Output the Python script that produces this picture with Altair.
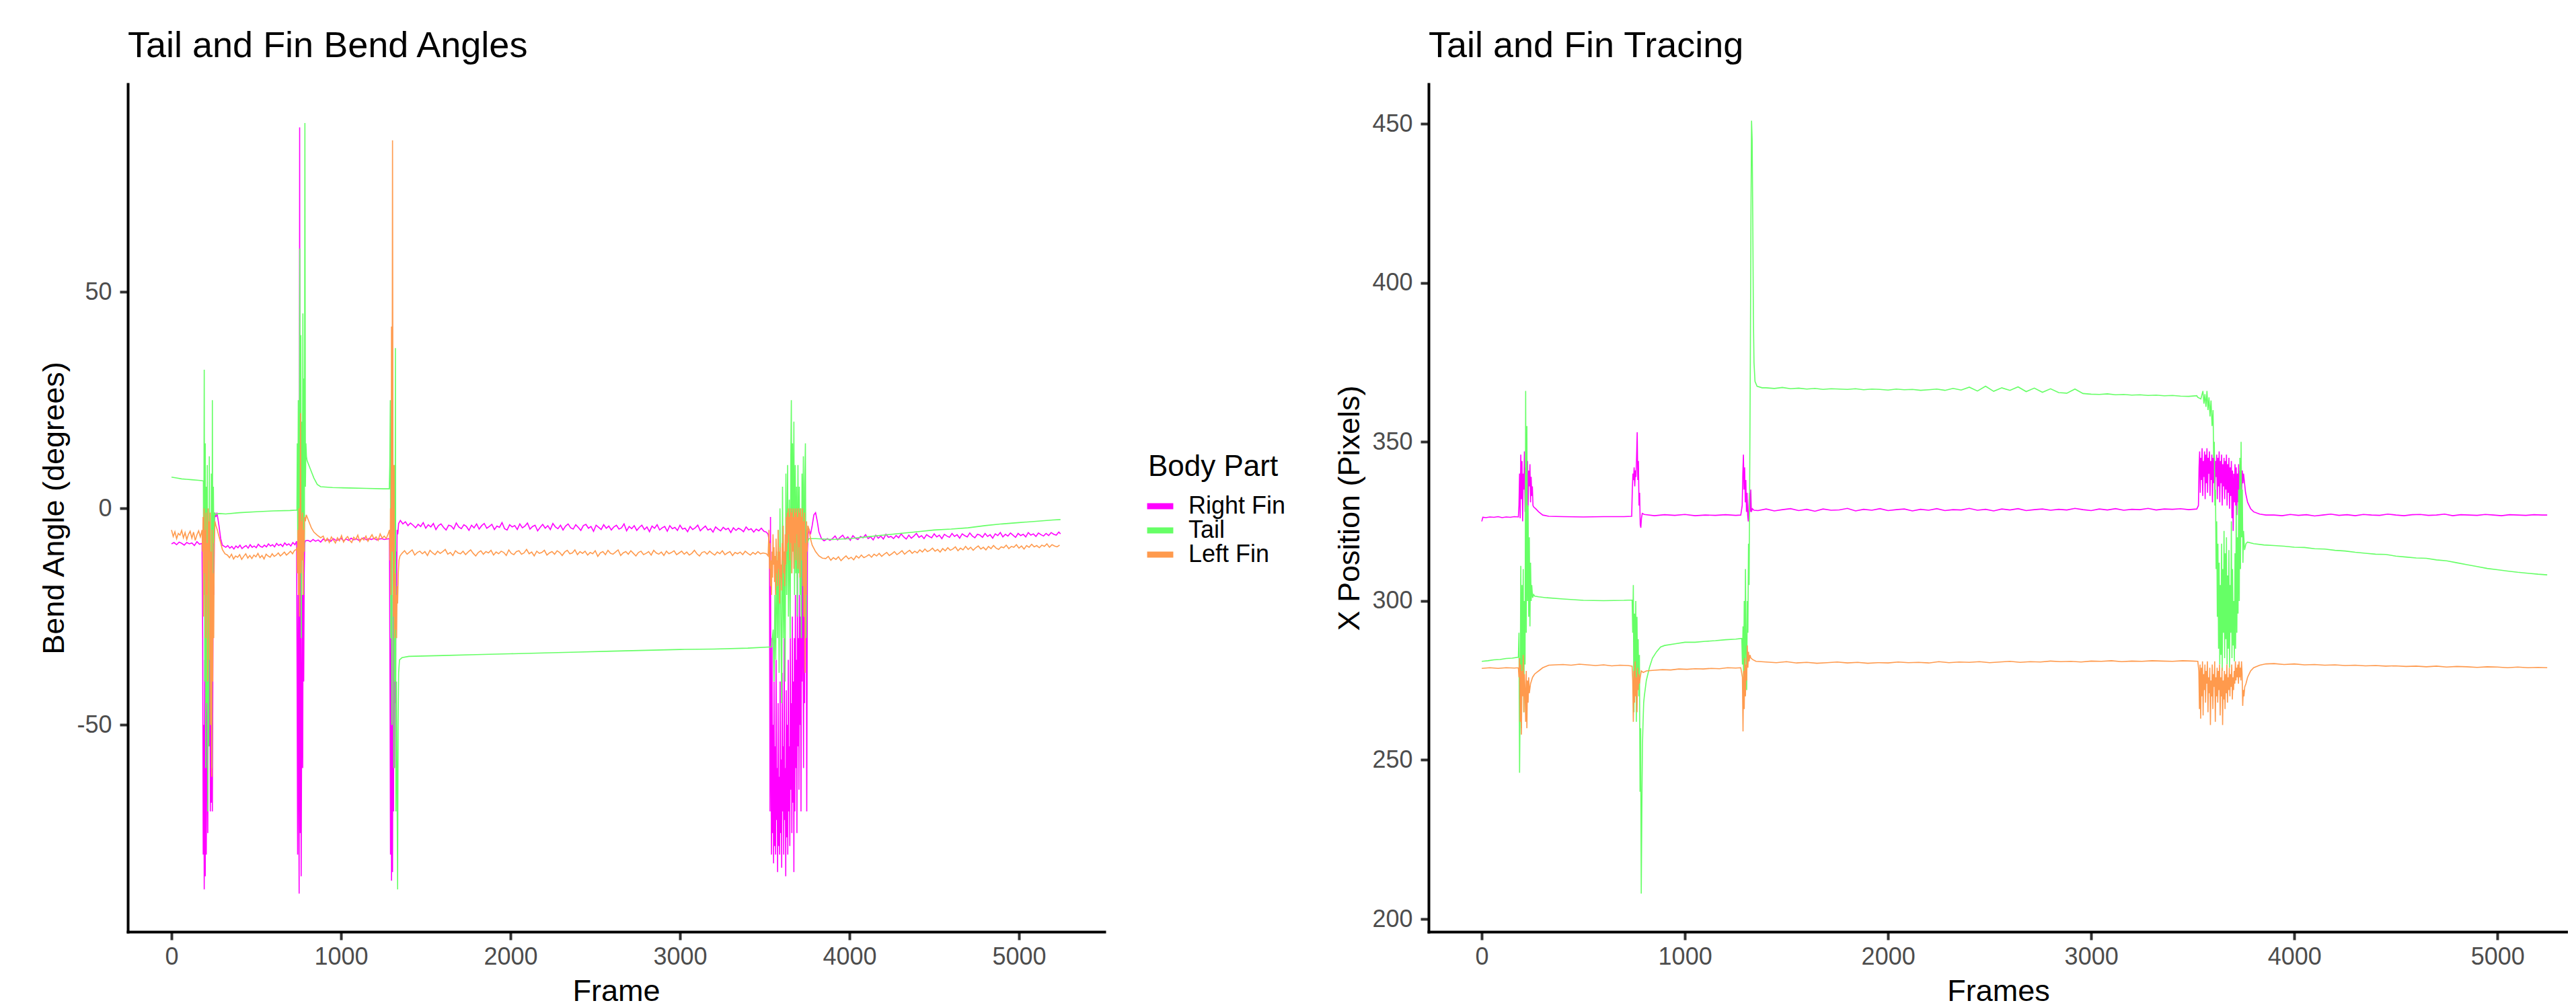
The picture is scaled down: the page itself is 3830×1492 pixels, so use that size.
import altair as alt
import pandas as pd

FONT = "Liberation Sans, Arial, sans-serif"
PARTS = ["Right Fin", "Tail", "Left Fin"]
COLORS = ["#FF00FF", "#66FF66", "#FF9A4D"]
X_TICKS = [0, 1000, 2000, 3000, 4000, 5000]
ANGLE_TICKS = [-50, 0, 50]
POS_TICKS = [200, 250, 300, 350, 400, 450]


def seg(start, step, vals):
    return [(start + i * step, v) for i, v in enumerate(vals)]


# ---------------- Bend angles (left panel) ----------------
RF_ANGLE = (
    seg(0, 15, [-8.2, -7.9, -8.4, -7.8, -8.1, -8.5, -7.9, -8.2, -8.0, -8.6, -7.7, -8.3, -8.1])
    + [(184, -30), (187, -80), (190, -50), (193, -88), (196, -35), (199, -85), (202, -20), (205, -80),
       (208, -60), (211, -40), (214, -75), (217, -30), (220, -10), (223, -55), (226, -25), (229, -70),
       (232, -40), (235, -68), (238, -15), (241, -70), (244, -35), (247, -5), (250, -20), (253, -3),
       (256, -1), (262, -2), (268, -1), (274, -2.5), (280, -4), (290, -7), (300, -8.5)]
    + seg(320, 12, [-9.0, -8.6, -9.2, -8.8, -9.4, -8.7, -9.1, -8.5, -9.3, -8.9, -8.6, -9.2, -8.4, -9.0,
                    -8.7, -9.1, -8.3, -8.8, -9.0, -8.5, -8.9, -8.2, -8.7, -8.4, -8.9, -8.1, -8.6, -8.3,
                    -8.8, -8.0, -8.5, -8.2, -8.7, -7.9, -8.4])
    + [(738, -7.6), (741, -40), (744, -80), (747, -20), (750, -60), (753, -89), (756, 88), (758, -30),
       (760, -75), (762, -10), (765, -85), (768, -50), (771, -20), (774, -60), (777, -5), (780, -40),
       (783, -15), (786, -8), (790, -7.5)]
    + seg(805, 15, [-7.4, -7.7, -7.2, -7.6, -7.3, -7.8, -7.1, -7.5, -7.2, -7.6, -7.0, -7.4, -7.3, -6.9,
                    -7.5, -7.1, -7.4, -6.9, -7.3, -7.0, -7.4, -7.1, -6.8, -7.3, -7.0, -7.2, -6.9, -7.3,
                    -7.1, -7.0, -7.2])
    + [(1286, -7), (1289, -40), (1292, -80), (1295, -30), (1298, -86), (1301, -50), (1304, -84),
       (1307, -20), (1310, -70), (1313, 0), (1316, -60), (1319, -30), (1322, -45), (1325, -10),
       (1328, -20), (1331, -5), (1335, -6), (1340, -3.5)]
    + seg(1350, 15, [-2.8, -3.6, -3.1, -4.0, -3.4, -3.9, -4.5, -3.7, -4.2, -3.3, -4.6, -3.8,
                     -4.3, -3.5, -4.9, -4.0, -3.6, -4.4, -5.0, -3.9, -4.1, -4.8, -3.4, -4.3,
                     -4.7, -3.8, -4.2, -5.1, -3.9, -4.5, -3.6, -4.8, -4.0, -3.5, -4.6, -4.2,
                     -3.7, -4.9, -4.1, -4.4, -3.3, -4.7, -5.0, -3.8, -4.3, -4.0, -4.9, -3.6,
                     -4.5, -4.1, -3.4, -4.8, -4.2, -3.9, -5.2, -4.4, -3.7, -4.6, -4.0, -4.9,
                     -3.5, -4.3, -4.7, -3.9, -5.0, -4.1, -3.6, -4.5, -4.8, -3.8, -4.4, -5.1,
                     -4.0, -3.7, -4.6, -4.2, -5.3, -3.9, -4.4, -4.9, -3.8, -4.6, -4.1, -5.0,
                     -4.3, -3.9, -4.8, -4.5, -3.6, -5.2, -4.2, -4.7, -4.0, -5.1, -4.4, -3.9,
                     -4.9, -4.3, -5.4, -4.1, -4.6, -3.8, -5.0, -4.5, -4.2, -5.3, -4.0, -4.7,
                     -4.4, -5.1, -3.9, -4.8, -4.6, -5.4, -4.2, -4.9, -4.5, -3.9, -5.2, -4.6,
                     -4.1, -5.0, -4.7, -5.5, -4.3, -4.8, -5.2, -4.4, -4.9, -4.6, -5.6, -4.5,
                     -5.1, -4.6, -4.9, -5.4, -4.3, -5.0, -4.7, -5.5, -4.8, -5.2, -4.6, -5.3])
    + [(3510, -5.5), (3520, -6), (3528, -8), (3531, -70), (3534, -2), (3537, -60), (3540, -80),
       (3543, -30), (3546, -75), (3549, -50), (3552, -82), (3555, -40), (3558, -78), (3561, -55),
       (3564, -80), (3567, -35), (3570, -72), (3573, -60), (3576, -84), (3579, -45), (3582, -78),
       (3585, -62), (3588, -80), (3591, -40), (3594, -75), (3597, -58), (3600, -83), (3603, -38),
       (3606, -70), (3609, -55), (3612, -80), (3615, -30), (3618, -72), (3621, -60), (3624, -85),
       (3627, -42), (3630, -76), (3633, -50), (3636, -80), (3639, -35), (3642, -70), (3645, -55),
       (3648, -78), (3651, -30), (3654, -65), (3657, -45), (3660, -75), (3663, -25), (3666, -68),
       (3669, -40), (3672, -84), (3675, -30), (3678, -70), (3681, -20), (3684, -60), (3687, -35),
       (3690, -75), (3693, -15), (3696, -55), (3699, -30), (3702, -65), (3705, -20), (3708, -50),
       (3711, -25), (3714, -70), (3717, -10), (3720, -40), (3723, -5), (3726, -30), (3729, -60),
       (3732, -8), (3735, -45), (3738, -3), (3741, -20), (3744, -6), (3748, -70), (3752, -10),
       (3756, -6), (3762, -5), (3770, -6), (3780, -4), (3790, -1.5), (3800, -1), (3810, -3),
       (3820, -5.5), (3835, -7), (3850, -7.5), (3870, -7.0), (3885, -7.4)]
    + seg(3900, 15, [-7.0, -6.4, -7.3, -6.7, -6.2, -7.1, -6.6, -7.4, -6.3, -6.9, -7.2, -6.5,
                     -6.8, -6.1, -7.0, -6.6, -7.3, -6.2, -6.9, -6.4, -7.1, -6.0, -6.7, -6.5,
                     -7.0, -6.3, -6.8, -5.9, -6.6, -7.1, -6.2, -6.9, -6.4, -5.8, -6.7, -6.3,
                     -7.0, -6.1, -6.5, -6.8, -5.9, -6.6, -6.2, -7.0, -6.0, -6.4, -6.7, -5.8,
                     -6.5, -6.1, -6.9, -5.9, -6.3, -6.6, -5.7, -6.4, -6.8, -6.0, -6.2, -6.7,
                     -5.8, -6.5, -6.1, -6.9, -5.9, -6.3, -5.6, -6.6, -6.0, -6.4, -5.7, -6.2,
                     -6.7, -5.8, -6.3, -6.0, -6.6, -5.6, -6.2, -5.9, -6.5, -5.7, -6.1, -6.4,
                     -5.8, -6.3, -5.6, -6.0, -6.2, -5.5])
    + [(5245, -5.9)]
)

TAIL_ANGLE = [
    (0, 7.2), (30, 7.0), (60, 6.8), (90, 6.7), (120, 6.6), (150, 6.5), (180, 6.4), (188, 6.3),
    (190, -20), (193, 32), (196, -40), (199, 15), (202, -60), (205, 5), (208, -45), (211, 10),
    (214, -70), (217, -5), (220, -55), (223, 12), (226, -30), (229, -10), (232, -50), (235, 8),
    (238, -60), (241, 25), (244, -20), (247, 5), (250, -8), (254, -1), (258, -1.5),
    (280, -1.2), (320, -1.3), (400, -1.0), (500, -0.8), (600, -0.6), (700, -0.5), (740, -0.4),
    (742, 15), (745, -10), (748, 25), (751, -20), (754, 10), (757, 60), (760, -15), (763, 40),
    (766, -30), (769, 20), (772, -5), (775, 45), (778, -20), (781, 30), (784, -10), (787, 89),
    (790, 5), (793, 15), (796, 12), (800, 11), (820, 9), (840, 7), (860, 5.5), (880, 5),
    (950, 4.8), (1050, 4.7), (1150, 4.6), (1250, 4.5), (1285, 4.5),
    (1288, 10), (1291, 25), (1294, -30), (1297, 15), (1300, -50), (1303, 20), (1306, -10),
    (1309, 5), (1312, -60), (1315, 10), (1318, -40), (1321, 37), (1324, -70), (1327, -40),
    (1330, -60), (1334, -88), (1337, -50), (1340, -38), (1345, -35), (1360, -34.5), (1400, -34.2),
    (1600, -34.0), (1800, -33.8), (2000, -33.6), (2200, -33.4), (2400, -33.2), (2600, -33.0),
    (2800, -32.8), (3000, -32.6), (3200, -32.5), (3400, -32.3), (3540, -32.0),
    (3545, -30), (3550, -28), (3555, -40), (3560, -20), (3565, -35), (3570, -10), (3575, -30),
    (3580, -5), (3585, -38), (3590, 0), (3595, -25), (3600, -45), (3605, 5), (3610, -30),
    (3615, -10), (3620, -40), (3625, 8), (3630, -20), (3635, 10), (3640, -25), (3645, 2),
    (3650, -30), (3654, 12), (3657, 25), (3660, -15), (3664, 15), (3668, -10), (3672, 20),
    (3676, -20), (3680, 10), (3684, -15), (3688, 5), (3692, -25), (3696, 10), (3700, -15),
    (3704, 5), (3708, -20), (3712, 0), (3716, -30), (3720, 8), (3724, -10), (3728, 12),
    (3732, -25), (3736, 5), (3740, 15), (3744, -30), (3748, -5), (3752, -8), (3760, -7),
    (3800, -7.0), (3900, -7.2), (4000, -7.0), (4100, -6.6), (4200, -6.2), (4300, -5.8),
    (4400, -5.4), (4500, -5.0), (4600, -4.8), (4700, -4.5), (4800, -4.0), (4900, -3.6),
    (5000, -3.3), (5100, -3.0), (5200, -2.7), (5245, -2.6),
]

LF_ANGLE = (
    seg(0, 10, [-5.0, -6.5, -5.4, -7.0, -5.8, -6.2, -5.1, -6.8, -5.6, -7.2, -6.0, -5.3, -6.9, -5.5,
                -7.4, -6.1, -5.2, -6.6, -5.0])
    + [(183, -10), (186, -2), (189, -25), (192, 0), (195, -15), (198, -5), (201, -30), (204, -1),
       (207, -20), (210, -8), (213, -40), (216, 0), (219, -12), (222, -3), (225, -35), (228, -1),
       (231, -50), (234, -10), (237, -62), (240, -5), (243, -40), (246, -15), (249, -30), (252, -8),
       (256, -3), (262, -4), (270, -5), (280, -6.5), (290, -8), (300, -9.5), (315, -10.5)]
    + seg(330, 12, [-10.8, -11.4, -10.6, -11.7, -11.0, -11.3, -10.7, -11.8, -11.1, -10.5, -11.5, -10.9,
                    -11.6, -10.8, -11.2, -10.4, -11.4, -10.9, -11.7, -10.6, -11.0, -11.3, -10.5, -11.1,
                    -10.8, -10.3, -11.0, -10.6, -10.1, -10.8, -10.4, -9.9, -10.5, -9.7, -9.5])
    + [(740, -9), (743, -15), (746, -5), (749, -20), (752, 0), (755, -25), (758, -8), (761, 22),
       (764, -15), (767, -3), (770, -12), (773, -1), (776, -20), (779, -5), (782, -10), (785, -2),
       (790, -3), (795, -1.5), (800, -2), (810, -3), (825, -4.5), (840, -5.5), (860, -6.2), (880, -6.8)]
    + seg(895, 12, [-6.4, -7.6, -6.9, -7.9, -6.6, -7.3, -8.0, -6.8, -7.5, -6.3, -7.8, -7.0,
                    -6.5, -7.4, -7.9, -6.7, -7.2, -6.2, -7.7, -6.9, -7.3, -6.4, -7.6, -6.8,
                    -6.1, -7.1, -6.6, -7.4, -5.9, -6.9, -6.4, -7.0, -5.8, -6.6])
    + [(1286, -5), (1289, -12), (1292, 0), (1295, -20), (1298, 42), (1301, -10), (1304, 85),
       (1307, -5), (1310, -25), (1313, 10), (1316, -30), (1319, -15), (1322, -28), (1325, -20),
       (1328, -30), (1331, -18), (1334, -22), (1338, -15), (1342, -12), (1348, -11)]
    + seg(1360, 15, [-10.4, -9.8, -10.6, -10.1, -9.6, -10.8, -10.2, -9.9, -10.5, -10.0, -10.9, -9.7,
                     -10.3, -10.7, -9.9, -10.4, -10.0, -9.5, -10.6, -10.2, -10.9, -9.8, -10.3, -10.5,
                     -9.9, -10.7, -10.1, -9.6, -10.4, -11.0, -10.2, -9.8, -10.6, -10.0, -10.3, -9.7,
                     -10.8, -10.1, -10.5, -9.9, -10.2, -10.9, -9.6, -10.4, -10.7, -10.0, -9.8, -10.6,
                     -10.3, -9.5, -10.5, -10.1, -11.0, -9.9, -10.4, -10.2, -9.7, -10.8, -10.3, -10.0,
                     -10.6, -9.8, -10.2, -10.9, -10.1, -9.7, -10.5, -10.3, -9.6, -10.7, -10.0, -10.4,
                     -9.9, -10.8, -10.2, -10.5, -9.8, -11.1, -10.3, -10.0, -10.7, -9.7, -10.4, -10.6,
                     -10.1, -9.6, -10.9, -10.3, -10.0, -10.6, -9.8, -10.4, -11.0, -10.2, -9.9, -10.7,
                     -10.4, -10.0, -10.8, -9.7, -10.3, -10.6, -10.1, -10.9, -9.9, -10.5, -10.2, -9.8,
                     -10.7, -10.3, -9.9, -10.6, -10.1, -10.8, -10.4, -9.7, -10.5, -11.0, -10.2, -10.0,
                     -10.6, -9.9, -10.4, -10.8, -10.1, -10.5, -9.8, -10.7, -10.3, -10.0, -10.9, -10.2,
                     -10.5, -10.1, -10.7, -9.9, -10.4, -10.8, -10.2, -10.6, -10.0, -10.5, -10.3])
    + [(3510, -10.5), (3520, -11), (3525, -5), (3528, -14), (3531, -8), (3534, -18), (3537, -12),
       (3540, -20), (3543, -10), (3546, -16), (3549, -6), (3552, -13), (3555, -9), (3558, -17),
       (3561, -11), (3564, -20), (3567, -7), (3570, -15), (3573, -12), (3576, -18), (3579, -5),
       (3582, -14), (3585, -10), (3588, -22), (3591, -9), (3594, -16), (3597, -13), (3600, -19),
       (3603, -8), (3606, -12), (3609, -4), (3612, -15), (3615, -10), (3618, -18), (3621, -6),
       (3624, -13), (3627, -2), (3630, -10), (3633, -1), (3636, -8), (3639, 0), (3642, -6),
       (3645, -2), (3648, -12), (3651, 0), (3654, -8), (3657, -1), (3660, -15), (3663, 0),
       (3666, -10), (3669, -2), (3672, -14), (3675, 0), (3678, -8), (3681, -1), (3684, -12),
       (3687, 0), (3690, -6), (3693, -2), (3696, -14), (3699, 0), (3702, -9), (3705, -1),
       (3708, -16), (3711, 0), (3714, -5), (3717, -2), (3720, -12), (3723, 0), (3726, -18),
       (3729, -3), (3732, -25), (3735, -1), (3738, -38), (3741, -8), (3744, -20), (3747, -3),
       (3750, -10), (3755, -4), (3762, -5), (3770, -7), (3780, -8.5), (3800, -10), (3820, -11),
       (3840, -11.5)]
    + seg(3860, 15, [-11.6, -11.1, -12.0, -11.4, -11.8, -11.2, -12.1, -11.5, -11.0, -11.7, -11.3, -11.9,
                     -11.0, -11.5, -10.8, -11.4, -11.1, -10.7, -11.3, -10.6, -11.0, -10.4, -11.1, -10.6,
                     -10.2, -10.9, -10.5, -10.0, -10.7, -10.3, -9.8, -10.6, -10.1, -9.7, -10.4, -9.9,
                     -10.3, -9.6, -10.1, -9.4, -10.0, -9.7, -9.2, -9.9, -9.5, -10.1, -9.3, -9.8,
                     -9.1, -9.7, -9.4, -8.9, -9.8, -9.2, -9.6, -8.8, -9.5, -9.0, -9.7, -9.1,
                     -8.7, -9.4, -9.0, -9.6, -8.8, -9.3, -8.6, -9.2, -9.5, -8.9, -9.1, -8.5,
                     -9.3, -8.8, -9.0, -8.4, -9.2, -8.7, -9.4, -8.6, -9.0, -8.3, -8.9, -8.6,
                     -9.1, -8.5, -8.8, -8.2, -9.0, -8.4, -8.7, -8.9, -8.5])
)

# ---------------- X positions (right panel) ----------------
RF_POS = (
    [(0, 325.0), (5, 326.3)]
    + seg(20, 20, [326.2, 326.4, 326.3, 326.5, 326.2, 326.4, 326.3, 326.5, 326.4])
    + [(183, 330), (186, 340), (189, 326), (192, 346), (195, 332), (198, 344), (201, 325), (204, 340),
       (207, 335), (210, 347), (213, 328), (216, 342), (219, 324), (222, 338), (225, 344), (228, 330),
       (231, 341), (234, 336), (237, 343), (240, 331), (243, 339), (246, 333), (249, 336), (252, 330),
       (256, 329.5), (265, 329), (280, 328), (300, 327), (330, 326.6), (400, 326.5), (500, 326.4),
       (600, 326.5), (700, 326.5), (738, 326.6),
       (741, 335), (744, 340), (747, 338), (750, 342), (753, 336), (756, 341), (759, 339), (762, 345),
       (765, 353), (768, 338), (771, 344), (774, 330), (777, 334), (780, 324), (783, 323), (786, 326),
       (790, 327.5), (800, 327.2), (850, 326.8), (900, 327.1), (950, 326.9), (1000, 327.2),
       (1050, 326.8), (1100, 327.0), (1150, 326.9), (1200, 327.1), (1250, 326.9), (1275, 327.0),
       (1282, 330), (1285, 340), (1288, 346), (1291, 335), (1294, 342), (1297, 331), (1300, 338),
       (1303, 328), (1306, 334), (1309, 327), (1312, 325), (1315, 330), (1318, 334), (1321, 328),
       (1324, 335), (1327, 328), (1332, 329), (1340, 328.5)]
    + seg(1360, 40, [328.4, 328.9, 328.3, 328.7, 329.0, 328.4, 328.8, 328.2, 328.9, 328.5, 328.6, 329.1,
                     328.3, 328.8, 328.5, 329.0, 328.4, 328.7, 328.9, 328.3, 328.8, 328.5, 329.0, 328.4,
                     328.7, 328.6, 329.1, 328.5, 328.8, 328.3, 328.9, 328.6, 329.0, 328.4, 328.7, 328.9,
                     328.5, 328.8, 328.6, 329.1, 328.7, 328.4, 328.9, 328.6, 329.0, 328.5, 328.8, 328.7,
                     329.1, 328.6, 328.9, 328.8, 329.0, 328.7, 328.9])
    + [(3528, 330), (3531, 342), (3534, 347), (3537, 334), (3540, 345), (3543, 338), (3546, 348),
       (3549, 333), (3552, 344), (3555, 339), (3558, 347), (3561, 332), (3564, 346), (3567, 337),
       (3570, 348), (3573, 334), (3576, 345), (3579, 340), (3582, 347), (3585, 333), (3588, 344),
       (3591, 338), (3594, 346), (3597, 331), (3600, 345), (3603, 337), (3606, 347), (3609, 333),
       (3612, 344), (3615, 339), (3618, 346), (3621, 332), (3624, 345), (3627, 336), (3630, 347),
       (3633, 331), (3636, 344), (3639, 337), (3642, 346), (3645, 330), (3648, 343), (3651, 336),
       (3654, 345), (3657, 332), (3660, 344), (3663, 335), (3666, 346), (3669, 330), (3672, 343),
       (3675, 334), (3678, 345), (3681, 329), (3684, 342), (3687, 333), (3690, 344), (3693, 326),
       (3696, 341), (3699, 322), (3702, 340), (3705, 331), (3708, 343), (3711, 330), (3714, 342),
       (3717, 327), (3720, 340), (3723, 331), (3726, 343), (3729, 329), (3732, 341), (3735, 333),
       (3738, 344), (3741, 335), (3744, 341), (3747, 337), (3750, 340), (3755, 337), (3760, 334),
       (3770, 331), (3785, 329), (3800, 328), (3830, 327.3), (3860, 327.0)]
    + seg(3900, 40, [327.0, 326.8, 327.2, 326.9, 327.1, 326.7, 327.0, 327.3, 326.9, 327.1, 326.8, 327.2,
                     327.0, 326.9, 327.3, 327.0, 326.8, 327.1, 327.2, 326.9, 327.0, 327.3, 326.8, 327.1,
                     327.0, 326.9, 327.2, 327.0, 326.8, 327.1, 327.0, 326.9, 327.1, 327.0])
    + [(5245, 327.0)]
)

TAIL_POS = (
    [(0, 281.0), (30, 281.2), (60, 281.5), (90, 281.6), (120, 281.9), (150, 282.0), (180, 282.3),
     (183, 290), (186, 246), (189, 270), (192, 311), (195, 260), (198, 305), (201, 275), (204, 310),
     (207, 265), (210, 300), (213, 280), (216, 366), (219, 290), (222, 355), (225, 300), (228, 330),
     (231, 295), (234, 320), (237, 292), (240, 312), (243, 300), (246, 305), (250, 301), (255, 302),
     (260, 301.5), (280, 301.3), (320, 301.0), (400, 300.6), (500, 300.2), (600, 300.1), (700, 300.2),
     (740, 300.3), (743, 290), (746, 305), (749, 265), (752, 296), (755, 272), (758, 300), (761, 262),
     (764, 295), (767, 275), (770, 288), (773, 270), (776, 283), (779, 240), (782, 260), (785, 208),
     (788, 235), (791, 255), (794, 262), (797, 268), (800, 270), (810, 275), (825, 279), (840, 282),
     (860, 284), (880, 285.5), (900, 286), (950, 286.5), (1000, 287), (1050, 287), (1100, 287.3),
     (1150, 287.5), (1200, 287.8), (1250, 288), (1280, 288.2),
     (1283, 280), (1286, 292), (1289, 275), (1292, 300), (1295, 270), (1298, 310), (1301, 285),
     (1304, 272), (1307, 300), (1310, 290), (1313, 318), (1316, 305), (1319, 340), (1322, 375),
     (1325, 420), (1328, 451), (1331, 445), (1334, 420), (1337, 390), (1340, 375), (1345, 369),
     (1355, 367.5), (1380, 367)]
    + seg(1400, 40, [367.0, 366.8, 367.1, 366.7, 366.9, 366.6, 366.8, 366.5, 366.7, 366.6, 366.5, 366.7,
                     366.4, 366.6, 366.5, 366.3, 366.6, 366.4, 366.5, 366.2, 366.4, 366.6, 366.2, 366.8,
                     366.3, 367.2, 366.0, 367.5, 365.9, 367.0, 366.2, 367.3, 365.8, 366.9, 365.6, 366.7,
                     365.5, 365.3, 366.6, 365.2, 365.0, 364.9, 365.1, 364.8, 364.9, 364.7, 364.8, 364.6,
                     364.7, 364.5, 364.6, 364.4, 364.3, 364.5])
    + [(3525, 364), (3540, 363.5), (3550, 366), (3555, 362), (3560, 365), (3565, 361), (3570, 366),
       (3575, 360), (3580, 364), (3585, 358), (3590, 363), (3595, 355), (3600, 360), (3603, 345),
       (3606, 350), (3609, 330), (3612, 335), (3615, 310), (3618, 325), (3621, 295), (3624, 318),
       (3627, 285), (3630, 312), (3633, 280), (3636, 305), (3639, 283), (3642, 318), (3645, 278),
       (3648, 310), (3651, 290), (3654, 322), (3657, 282), (3660, 315), (3663, 288), (3666, 320),
       (3669, 280), (3672, 308), (3675, 285), (3678, 316), (3681, 279), (3684, 305), (3687, 290),
       (3690, 325), (3693, 282), (3696, 310), (3699, 286), (3702, 300), (3705, 281), (3708, 315),
       (3711, 285), (3714, 330), (3717, 290), (3720, 320), (3723, 296), (3726, 335), (3729, 300),
       (3732, 345), (3735, 310), (3738, 350), (3741, 320), (3744, 335), (3747, 312), (3750, 322),
       (3755, 316), (3762, 318), (3770, 318.5), (3800, 318.0), (3850, 317.6), (3900, 317.4),
       (3950, 317.2), (4000, 316.9), (4050, 316.8), (4100, 316.4), (4150, 316.3), (4200, 315.9),
       (4250, 315.7), (4300, 315.3), (4350, 315.0), (4400, 314.7), (4450, 314.6), (4500, 314.1),
       (4550, 313.8), (4600, 313.5), (4650, 313.4), (4700, 312.9), (4750, 312.6), (4800, 312.0),
       (4850, 311.4), (4900, 310.8), (4950, 310.2), (5000, 309.8), (5050, 309.4), (5100, 309.0),
       (5150, 308.7), (5200, 308.4), (5245, 308.2)]
)

LF_POS = (
    [(0, 278.8), (40, 279.0), (80, 278.8), (120, 279.0), (160, 278.9), (180, 279.0),
     (183, 276), (186, 282), (189, 262), (192, 280), (195, 258), (198, 278), (201, 270), (204, 283),
     (207, 265), (210, 277), (213, 272), (216, 262), (219, 278), (222, 260), (225, 275), (228, 268),
     (231, 276), (234, 271), (240, 274), (250, 276), (260, 277), (280, 278), (300, 279), (330, 279.8)]
    + seg(360, 40, [279.9, 280.0, 279.8, 280.1, 279.9, 279.7, 279.9, 279.6, 279.8, 279.7])
    + [(740, 279.5), (743, 275), (746, 262), (749, 278), (752, 268), (755, 281), (758, 270), (761, 276),
       (764, 265), (767, 279), (770, 272), (773, 277), (776, 274), (780, 276), (785, 278), (795, 277.5),
       (810, 278)]
    + seg(850, 40, [278.2, 278.4, 278.3, 278.6, 278.5, 278.7, 278.6, 278.8, 278.7, 279.0, 278.9])
    + [(1275, 279), (1283, 276), (1286, 259), (1289, 278), (1292, 266), (1295, 282), (1298, 270),
       (1301, 280), (1304, 275), (1307, 286), (1310, 279), (1313, 284), (1316, 281), (1320, 283),
       (1325, 282), (1335, 281.5), (1350, 281)]
    + seg(1400, 50, [280.8, 280.6, 280.9, 280.5, 280.7, 280.4, 280.6, 280.8, 280.5, 280.7, 280.4, 280.6,
                     280.5, 280.8, 280.6, 280.7, 280.5, 280.9, 280.6, 280.8, 280.7, 280.9, 280.6, 280.8,
                     281.0, 280.7, 280.9, 280.8, 281.1, 280.9, 281.0, 280.8, 281.1, 281.0, 281.2, 280.9,
                     281.1, 281.0, 281.2, 281.1, 281.0, 281.2, 281.1])
    + [(3525, 281), (3530, 278), (3533, 266), (3536, 280), (3539, 263), (3542, 279), (3545, 270),
       (3548, 281), (3551, 264), (3554, 277), (3557, 272), (3560, 280), (3563, 268), (3566, 278),
       (3569, 274), (3572, 281), (3575, 265), (3578, 276), (3581, 271), (3584, 279), (3587, 261),
       (3590, 275), (3593, 270), (3596, 280), (3599, 266), (3602, 277), (3605, 273), (3608, 281),
       (3611, 262), (3614, 276), (3617, 270), (3620, 279), (3623, 268), (3626, 278), (3629, 272),
       (3632, 280), (3635, 264), (3638, 276), (3641, 270), (3644, 279), (3647, 261), (3650, 275),
       (3653, 269), (3656, 278), (3659, 266), (3662, 277), (3665, 271), (3668, 280), (3671, 268),
       (3674, 276), (3677, 272), (3680, 279), (3683, 270), (3686, 277), (3689, 273), (3692, 280),
       (3695, 269), (3698, 276), (3701, 272), (3704, 278), (3707, 274), (3710, 281), (3713, 275),
       (3716, 279), (3719, 276), (3722, 280), (3725, 274), (3728, 281), (3731, 276), (3734, 279),
       (3737, 275), (3740, 281), (3743, 277), (3746, 267), (3749, 272), (3752, 270), (3756, 273),
       (3762, 274), (3770, 276), (3785, 278), (3800, 279), (3830, 279.8), (3860, 280.2),
       (3900, 280.3), (3950, 280.0), (4000, 280.2), (4050, 279.9), (4100, 280.0), (4150, 279.8),
       (4200, 279.9), (4250, 279.7), (4300, 279.8), (4350, 279.6), (4400, 279.7), (4450, 279.5),
       (4500, 279.6), (4550, 279.4), (4600, 279.5), (4650, 279.3), (4700, 279.5), (4750, 279.2),
       (4800, 279.4), (4850, 279.3), (4900, 279.1), (4950, 279.3), (5000, 279.2), (5050, 279.0),
       (5100, 279.2), (5150, 279.0), (5200, 279.1), (5245, 279.0)]
)


def to_df(series):
    rows = []
    for part, pts in series.items():
        for f, v in sorted(pts, key=lambda t: t[0]):
            rows.append({"frame": f, "value": v, "part": part})
    return pd.DataFrame(rows)


angle_df = to_df({"Right Fin": RF_ANGLE, "Tail": TAIL_ANGLE, "Left Fin": LF_ANGLE})
pos_df = to_df({"Right Fin": RF_POS, "Tail": TAIL_POS, "Left Fin": LF_POS})

color_scale = alt.Scale(domain=PARTS, range=COLORS)
LABEL_EXPR = "datum.value + ''"


def panel(df, xdom, ydom, yticks, xtitle, ytitle, title, width, height, legend):
    layers = []
    for part in PARTS:
        layers.append(
            alt.Chart(df)
            .transform_filter(alt.datum.part == part)
            .mark_line(strokeWidth=1.6, clip=True)
            .encode(
                x=alt.X("frame:Q", scale=alt.Scale(domain=xdom, nice=False, zero=False),
                        axis=alt.Axis(values=X_TICKS, title=xtitle, labelExpr=LABEL_EXPR)),
                y=alt.Y("value:Q", scale=alt.Scale(domain=ydom, nice=False, zero=False),
                        axis=alt.Axis(values=yticks, title=ytitle, labelExpr=LABEL_EXPR)),
                color=alt.Color("part:N", scale=color_scale, legend=legend),
            )
        )
    return alt.layer(*layers).properties(
        width=width, height=height,
        title=alt.TitleParams(title, anchor="start", frame="group", fontSize=54, font=FONT,
                              fontWeight="normal", color="black", baseline="alphabetic", offset=-14),
    )


legend = alt.Legend(
    title="Body Part", orient="none", legendX=1517, legendY=548, padding=0,
    titleFont=FONT, titleFontSize=44, titleFontWeight="normal", titleColor="black",
    titlePadding=18, titleLimit=2000,
    labelFont=FONT, labelFontSize=36, labelColor="black", labelOffset=24, labelLimit=2000,
    symbolType="M-1.62,0H1.62", symbolStrokeWidth=9, symbolSize=576, rowPadding=0,
)

left = panel(angle_df, [-258, 5504], [-97.8, 98.0], ANGLE_TICKS, "Frame", "Bend Angle (degrees)",
             "Tail and Fin Bend Angles", 1452, 1261, legend)
right = panel(pos_df, [-262, 5347], [196.0, 462.5], POS_TICKS, "Frames", "X Position (Pixels)",
              "Tail and Fin Tracing", 1694, 1261, None)

chart = (
    alt.hconcat(left, right, spacing=482, bounds="flush")
    .resolve_scale(color="independent")
    .configure(padding={"left": 50, "top": 34, "right": 0, "bottom": 0}, font=FONT)
    .configure_view(stroke=None)
    .configure_axis(
        grid=False, domainColor="black", domainWidth=4, domainCap="square",
        tickColor="#333333", tickWidth=4, tickSize=12,
        labelFont=FONT, labelFontSize=36, labelColor="#4D4D4D",
        titleFont=FONT, titleFontSize=45, titleColor="black", titleFontWeight="normal",
    )
    .configure_axisX(labelPadding=8, titlePadding=11)
    .configure_axisY(labelPadding=12, titlePadding=10)
)

chart.save("out.html", embed_options={"renderer": "svg", "actions": False})
